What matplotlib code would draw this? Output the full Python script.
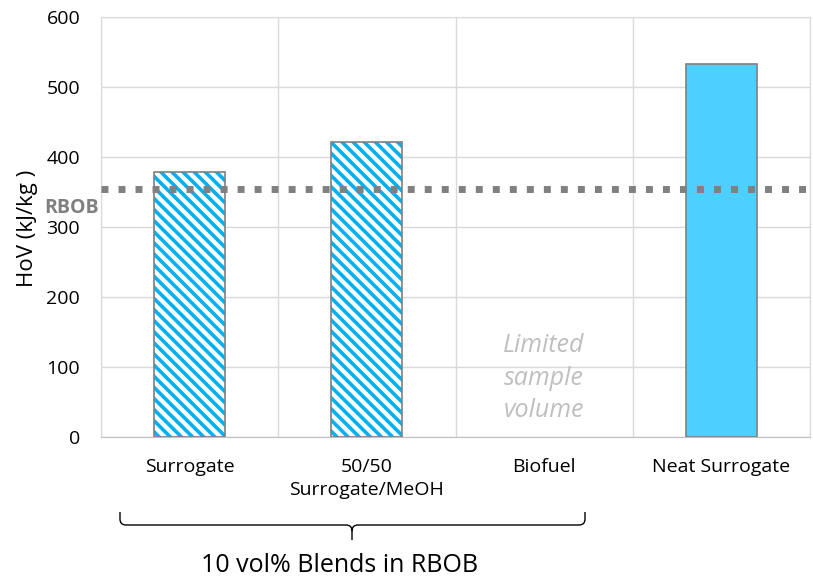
import numpy as np
import matplotlib.pyplot as plt
from matplotlib.path import Path
from matplotlib.patches import PathPatch
import matplotlib.transforms as mtransforms

plt.rcParams['font.family'] = ['Open Sans', 'DejaVu Sans']
plt.rcParams['hatch.linewidth'] = 2.6

# --- Data ---
categories = ['Surrogate', '50/50\nSurrogate/MeOH', 'Biofuel', 'Neat Surrogate']
hov_values = [379, 421, np.nan, 533]
hatched = [True, True, False, False]
rbob_hov = 354
y_ticks = [0, 100, 200, 300, 400, 500, 600]

HATCH_BLUE = '#00B0F0'
NEAT_BLUE = '#4DCFFF'
EDGE_GRAY = '#808080'
GRID_GRAY = '#D9D9D9'

fig = plt.figure(figsize=(8.13, 5.77), dpi=100)
ax = fig.add_axes([101/813, 1 - 437/577, 709/813, 420/577])

x = np.arange(len(categories))
for xi, val, h in zip(x, hov_values, hatched):
    if np.isnan(val):
        continue
    if h:
        ax.bar(xi, val, width=0.4, facecolor='white', edgecolor=HATCH_BLUE,
               hatch='\\' * 3, linewidth=0, zorder=3)
        ax.bar(xi, val, width=0.4, facecolor='none', edgecolor=EDGE_GRAY,
               linewidth=1.2, zorder=4)
    else:
        ax.bar(xi, val, width=0.4, facecolor=NEAT_BLUE, edgecolor=EDGE_GRAY,
               linewidth=1.2, zorder=3)

# RBOB reference line
ax.axhline(rbob_hov, color=EDGE_GRAY, linewidth=5, linestyle=(0, (1, 1.45)),
           dash_capstyle='butt', zorder=5)
ax.text(-0.042, 327, 'RBOB', transform=mtransforms.blended_transform_factory(
    ax.transAxes, ax.transData), ha='center', va='center', color=EDGE_GRAY,
    fontsize=14, fontweight='bold', zorder=6, clip_on=False)

ax.text(2, 84, 'Limited\nsample\nvolume', ha='center', va='center', color='#BFBFBF',
        fontsize=18, style='italic', linespacing=1.4)

ax.set_xlim(-0.5, len(categories) - 0.5)
ax.set_ylim(0, 600)
ax.set_yticks(y_ticks)
ax.set_xticks(x)
ax.set_xticklabels(categories, fontsize=14, linespacing=1.35)
ax.set_xticks(np.arange(-0.5, len(categories), 1), minor=True)
ax.tick_params(axis='both', which='both', length=0)
ax.tick_params(axis='y', labelsize=14, pad=15)
ax.tick_params(axis='x', pad=15)
ax.grid(axis='y', color=GRID_GRAY, linewidth=1, zorder=0)
ax.grid(axis='x', which='minor', color=GRID_GRAY, linewidth=1, zorder=0)
for s in ['top', 'left', 'right']:
    ax.spines[s].set_color(GRID_GRAY)
ax.spines['bottom'].set_color('#BFBFBF')
ax.set_axisbelow(True)

ax.set_ylabel('HoV (kJ/kg )', fontsize=16)
ax.yaxis.set_label_coords((38 - 101) / 709, (437 - 228) / 420)

# brace under the blend categories (figure pixel coords)
W, H = 813, 577
def fp(px, py):
    return (px / W, 1 - py / H)

xl, xr, xc = 120, 585, 352
yt, ym, yb = 512, 525, 540
r = 6
verts = [fp(xl, yt), fp(xl, ym - r), fp(xl, ym), fp(xl + r, ym),
         fp(xc - r, ym), fp(xc, ym), fp(xc, ym + r), fp(xc, yb),
         fp(xc, ym + r), fp(xc, ym), fp(xc + r, ym),
         fp(xr - r, ym), fp(xr, ym), fp(xr, ym - r), fp(xr, yt)]
codes = [Path.MOVETO, Path.LINETO, Path.CURVE3, Path.CURVE3,
         Path.LINETO, Path.CURVE3, Path.CURVE3, Path.LINETO,
         Path.MOVETO, Path.CURVE3, Path.CURVE3,
         Path.LINETO, Path.CURVE3, Path.CURVE3, Path.LINETO]
fig.add_artist(PathPatch(Path(verts, codes), transform=fig.transFigure,
                         facecolor='none', edgecolor='black', linewidth=1))

fig.text(340 / W, 1 - 565 / H, '10 vol% Blends in RBOB', ha='center', va='center',
         fontsize=18)

fig.savefig('out.png', dpi=100)
